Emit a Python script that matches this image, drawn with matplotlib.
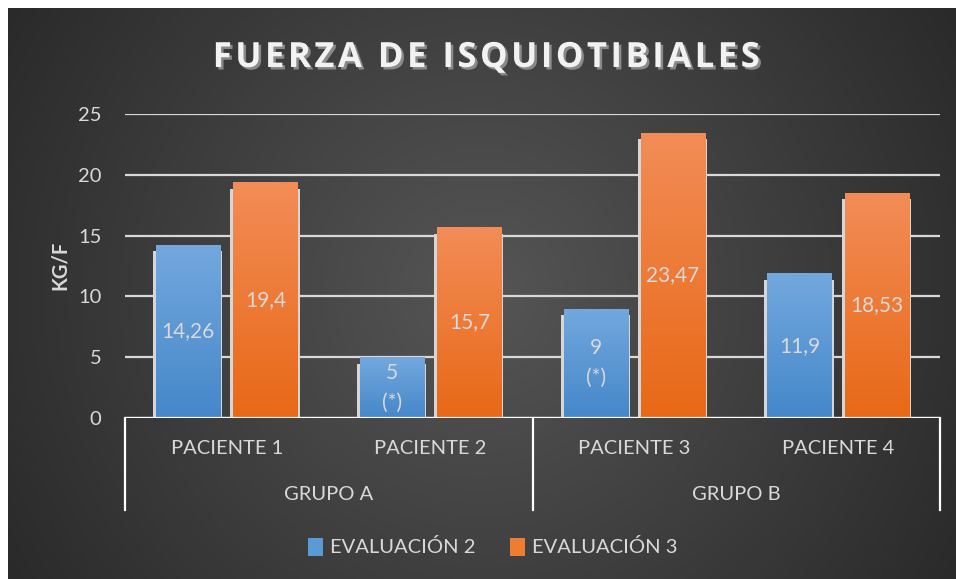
import numpy as np
import matplotlib.pyplot as plt
import matplotlib.patheffects as pe
from matplotlib.patches import Patch
from matplotlib.transforms import blended_transform_factory

# datos
titulo = 'FUERZA DE ISQUIOTIBIALES'
pacientes = ['PACIENTE 1', 'PACIENTE 2', 'PACIENTE 3', 'PACIENTE 4']
grupos = ['GRUPO A', 'GRUPO B']
eval2 = [14.26, 5, 9, 11.9]
eval3 = [19.4, 15.7, 23.47, 18.53]
notas2 = ['', '(*)', '(*)', '']
yticks = [0, 5, 10, 15, 20, 25]

plt.rcParams['font.family'] = ['Lato', 'DejaVu Sans']
txt = '#d9d9d9'

fig = plt.figure(figsize=(9.56, 5.79), dpi=100)
fig.patch.set_facecolor('white')

# fondo con degradado radial
bg = fig.add_axes([8 / 956, 0, 948 / 956, 571 / 579], zorder=-10)
yy, xx = np.mgrid[0:1:300j, 0:1:500j]
r = np.sqrt(((xx - 0.5) * 1.0) ** 2 + ((yy - 0.5) * 0.6) ** 2) / np.sqrt(0.25 + 0.09)
g = 0.335 - 0.17 * r
bg.imshow(np.dstack([g, g, g]), aspect='auto', extent=[0, 1, 0, 1])
bg.axis('off')

ax = fig.add_axes([125 / 956, 1 - 418 / 579, 815 / 956, 304 / 579])
ax.set_facecolor('none')
x = np.arange(len(pacientes))
w = 0.315
off = 0.19
px = 1 / 203.75


def grad_bars(bars, top, bottom):
    for b in bars:
        x0, y0 = b.get_x(), b.get_y()
        h = b.get_height()
        grad = np.linspace(0, 1, 100).reshape(-1, 1)
        cols = np.array(bottom) + (np.array(top) - np.array(bottom)) * grad
        im = ax.imshow(cols.reshape(100, 1, 3), aspect='auto', origin='lower',
                       extent=[x0, x0 + b.get_width(), y0, y0 + h], zorder=3)
        im.set_clip_path(b)


for vals, pos in [(eval2, x - off), (eval3, x + off)]:
    ax.bar(pos - 0.5 * px, np.array(vals) - 0.55 + 0.12, width=w + 5 * px, bottom=-0.12,
           color='#d6d6d6', zorder=2)

b2 = ax.bar(x - off, eval2, width=w, color='#5b9bd5', zorder=3)
b3 = ax.bar(x + off, eval3, width=w, color='#ed7d31', zorder=3)
grad_bars(b2, (0.45, 0.66, 0.87), (0.27, 0.53, 0.79))
grad_bars(b3, (0.95, 0.55, 0.34), (0.91, 0.41, 0.09))

for i in range(len(pacientes)):
    lab2 = f'{eval2[i]:g}'.replace('.', ',')
    if notas2[i]:
        lab2 += '\n' + notas2[i]
    ax.text(x[i] - off, eval2[i] / 2, lab2, ha='center', va='center', color=txt,
            fontsize=15, zorder=5, linespacing=1.6)
    ax.text(x[i] + off, eval3[i] / 2, f'{eval3[i]:g}'.replace('.', ','), ha='center',
            va='center', color=txt, fontsize=15, zorder=5)

ax.set_xlim(-0.5, 3.5)
ax.set_ylim(0, 25)
ax.set_yticks(yticks)
ax.set_yticklabels([str(t) for t in yticks], color=txt, fontsize=14.5)
ax.tick_params(axis='y', length=0, pad=17)
ax.set_xticks([])
ax.grid(axis='y', color='#d9d9d9', lw=1.6, zorder=0)
ax.set_axisbelow(True)
for s in ax.spines.values():
    s.set_visible(False)
ax.axhline(0, color='white', lw=1.6, zorder=4)

ax.set_ylabel('KG/F', color=txt, fontsize=14.5, fontweight='bold')
ax.yaxis.set_label_coords(-0.068, 0.503)

# eje de categorias en dos niveles
tr = blended_transform_factory(ax.transData, ax.transAxes)
for xb in [-0.5, 1.5, 3.5]:
    ax.plot([xb, xb], [0, -0.3026], color='white', lw=1.6, transform=tr, clip_on=False)
for i, p in enumerate(pacientes):
    ax.text(x[i], -0.099, p, transform=tr, ha='center', va='center', color=txt, fontsize=14.5)
for j, gname in enumerate(grupos):
    ax.text(0.5 + 2 * j, -0.25, gname, transform=tr, ha='center', va='center',
            color=txt, fontsize=14.5)

# titulo con espaciado entre letras
fig.text(487 / 956, 1 - 58 / 579, '\u200a'.join(titulo), ha='center', va='center',
         color='#f2f2f2', fontsize=25, fontweight='bold', family=['Open Sans', 'DejaVu Sans'],
         path_effects=[pe.withSimplePatchShadow(offset=(1.8, -1.8), shadow_rgbFace='#8a8a8a', alpha=1)])

handles = [Patch(facecolor='#5b9bd5', label='EVALUACIÓN 2'),
           Patch(facecolor='#ed7d31', label='EVALUACIÓN 3')]
fig.legend(handles=handles, loc='center', bbox_to_anchor=(493 / 956, 1 - 547 / 579), ncol=2,
           frameon=False, fontsize=14.5, labelcolor=txt, handlelength=0.75, handleheight=1.0,
           handletextpad=0.35, columnspacing=1.7)

fig.savefig('out.png', dpi=100, facecolor=fig.get_facecolor())
